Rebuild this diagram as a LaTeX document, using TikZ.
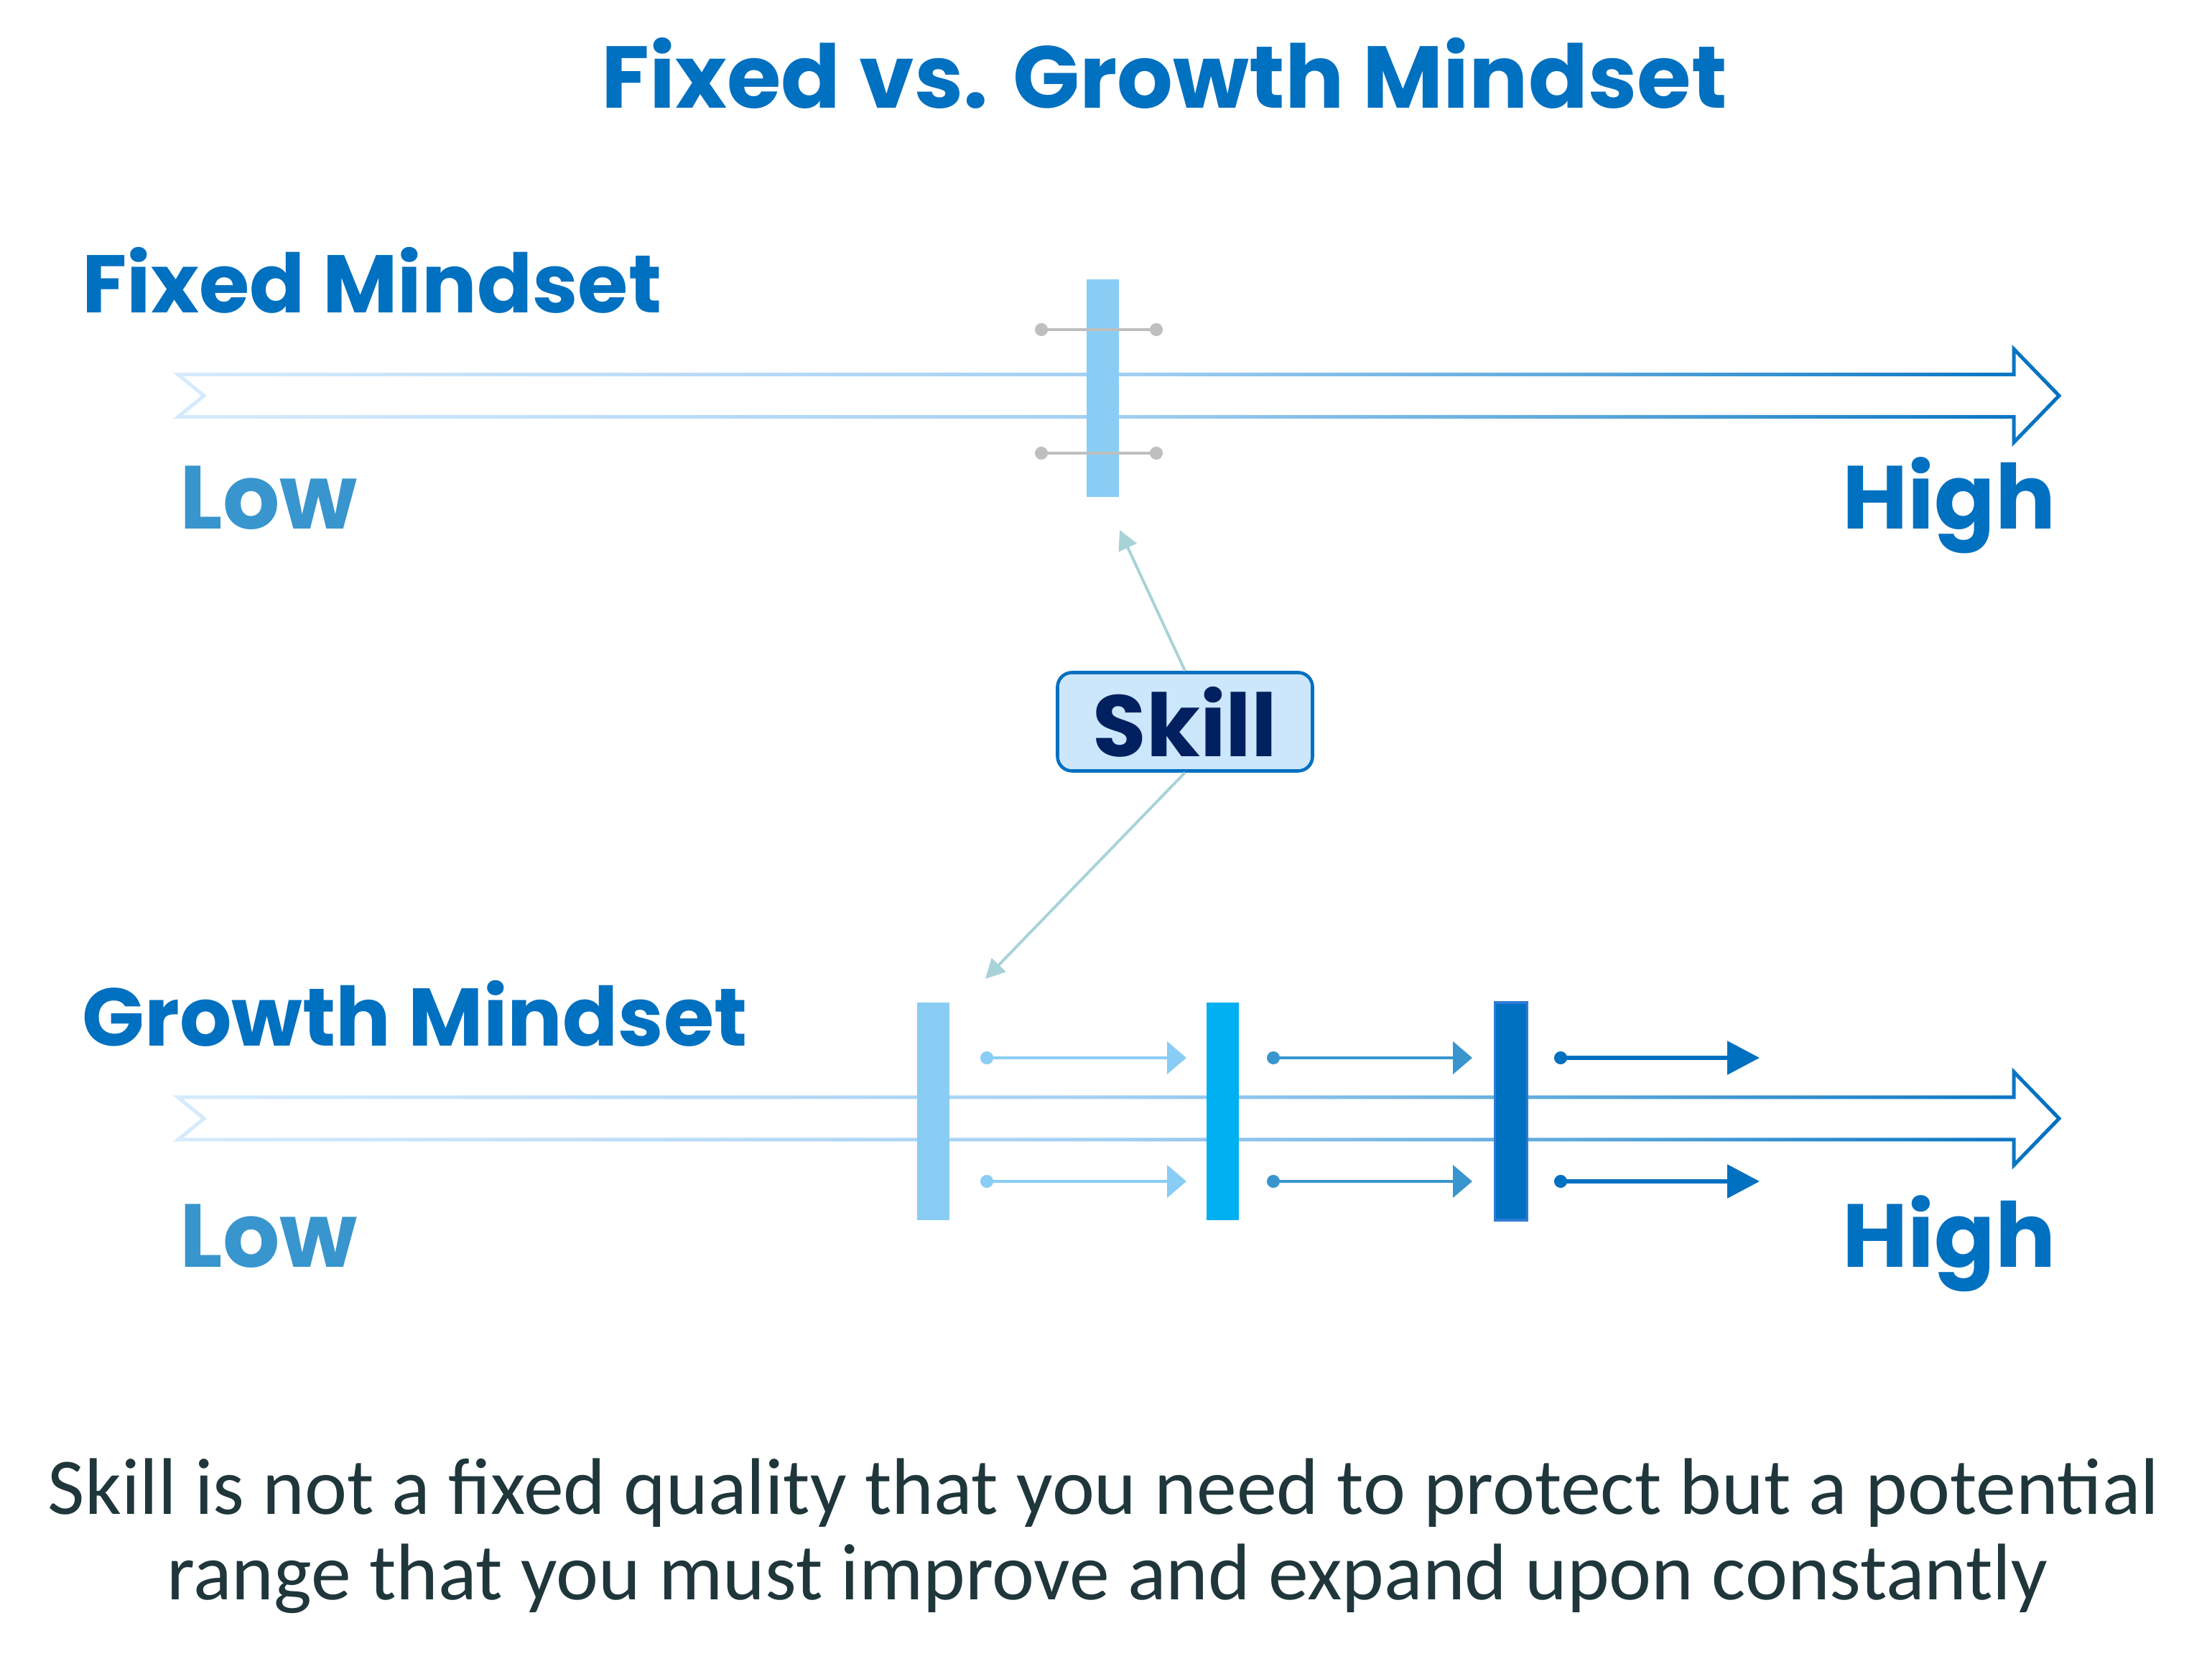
\documentclass[tikz,border=0pt]{standalone}
\usepackage{fontspec}
\setmainfont{Carlito}
\newfontfamily\headfont{Poppins}
\usetikzlibrary{arrows.meta,positioning}

\definecolor{mindblue}{HTML}{0070C0}
\definecolor{lowblue}{HTML}{3895CD}
\definecolor{skyblue}{HTML}{89CDF5}
\definecolor{brightblue}{HTML}{00B0F0}
\definecolor{barrim}{HTML}{2E7CD6}
\definecolor{navy}{HTML}{002060}
\definecolor{skillfill}{HTML}{CCE6FC}
\definecolor{pointercol}{HTML}{A7D2D8}
\definecolor{handlegray}{HTML}{BFBFBF}
\definecolor{notetext}{HTML}{1F363B}
\definecolor{arrowlo}{HTML}{D6EBFD}
\definecolor{arrowmid}{HTML}{A3CFF2}
\definecolor{arrowhi}{HTML}{5AA7DB}

\pgfdeclarehorizontalshading{mindgrad}{100bp}{%
  color(0bp)=(arrowlo); color(25bp)=(arrowlo); color(50bp)=(arrowmid);
  color(62.5bp)=(arrowhi); color(75bp)=(mindblue); color(100bp)=(mindblue)}

\begin{document}
\begin{tikzpicture}[
  heading/.style={text=mindblue, inner sep=0pt,
    font=\headfont\bfseries\fontsize{34.8}{40}\selectfont},
  section/.style={heading,
    font=\headfont\bfseries\fontsize{32.4}{38}\selectfont},
  endlbl/.style={heading,
    font=\headfont\bfseries\fontsize{35.5}{40}\selectfont},
  lowlbl/.style={endlbl, text=lowblue},
  bar/.style={minimum width=4.5mm, minimum height=30.3mm,
    inner sep=0pt, outer sep=0pt},
  handle/.style={{Circle[length=1.8mm]}-{Circle[length=1.8mm]},
    line width=1.4pt, handlegray},
  growarrow/.style={{Circle[length=1.8mm]}-{Triangle[length=2.7mm,width=4.5mm]},
    line width=1.3pt},
  lastarrow/.style={{Circle[length=1.8mm]}-{Triangle[length=4.5mm,width=4.6mm]},
    line width=1.7pt, mindblue},
  pointer/.style={-{Triangle[length=2.7mm,width=2.7mm]}, line width=1.1pt,
    pointercol},
  skillbox/.style={draw=mindblue, line width=1.3pt, fill=skillfill,
    rounded corners=2mm, minimum width=35.5mm, minimum height=13.7mm,
    text=navy, font=\headfont\bfseries\fontsize{34.5}{40}\selectfont},
  note/.style={text=notetext, inner sep=0pt,
    font=\fontsize{31.8}{38}\selectfont},
  mindarrow/.pic={
    \shade[shading=mindgrad, even odd rule]
      (2.41,0.32) -- (28.015,0.32) -- (28.015,0.712) -- (28.705,0)
      -- (28.015,-0.712) -- (28.015,-0.32) -- (2.41,-0.32) -- (2.80,0) -- cycle
      (2.55,0.27) -- (28.065,0.27) -- (28.065,0.588) -- (28.635,0)
      -- (28.065,-0.588) -- (28.065,-0.27) -- (2.55,-0.27) -- (2.88,0) -- cycle;
  },
]

\fill[white] (0,0) rectangle (30.80,23.23);

% ---- title --------------------------------------------------------------
\node[heading, anchor=base] (title) at (16.21,21.72) {Fixed vs. Growth Mindset};

% ---- fixed mindset ------------------------------------------------------
\node[section, anchor=base west] (fixed) at (1.14,18.87) {Fixed Mindset};
\pic at (0,17.72) {mindarrow};
\node[bar, fill=skyblue] (fixbar) at (15.35,17.82) {};
\foreach \y in {18.64,16.92}
  \draw[handle] (14.41,\y) -- (16.19,\y);
\node[lowlbl, anchor=base west] (fixlow) at (2.50,15.86) {Low};
\node[endlbl, anchor=base east] (fixhigh) at (28.63,15.86) {High};

% ---- skill label --------------------------------------------------------
\node[skillbox] (skill) at (16.50,13.18) {Skill};
\coordinate (fixtip)  at (15.59,15.85);
\coordinate (growtip) at (13.72,9.60);
\draw[pointer] (skill.north) -- (fixtip);
\draw[pointer] (skill.south) -- (growtip);

% ---- growth mindset -----------------------------------------------------
\node[section, anchor=base west] (growth) at (1.14,8.66) {Growth Mindset};
\pic at (0,7.655) {mindarrow};
\node[bar, fill=skyblue]    (bar1) at (12.99,7.755) {};
\node[bar, fill=brightblue] (bar2) at (17.02,7.755) {};
\node[bar, fill=mindblue, draw=barrim, line width=0.9pt] (bar3) at (21.04,7.755) {};
\foreach \y in {8.50,6.78} {
  \draw[growarrow, skyblue] (13.65,\y) -- (16.52,\y);
  \draw[growarrow, lowblue] (17.64,\y) -- (20.50,\y);
  \draw[lastarrow]          (21.64,\y) -- (24.50,\y);
}
\node[lowlbl, anchor=base west] (growlow) at (2.50,5.59) {Low};
\node[endlbl, anchor=base east] (growhigh) at (28.63,5.59) {High};

% ---- closing note -------------------------------------------------------
\node[note, anchor=base] (note) at (15.37,2.15)
  {Skill is not a fixed quality that you need to protect but a potential};
\node[note, anchor=base] (note2) at (15.42,0.96)
  {range that you must improve and expand upon constantly};

\end{tikzpicture}
\end{document}
